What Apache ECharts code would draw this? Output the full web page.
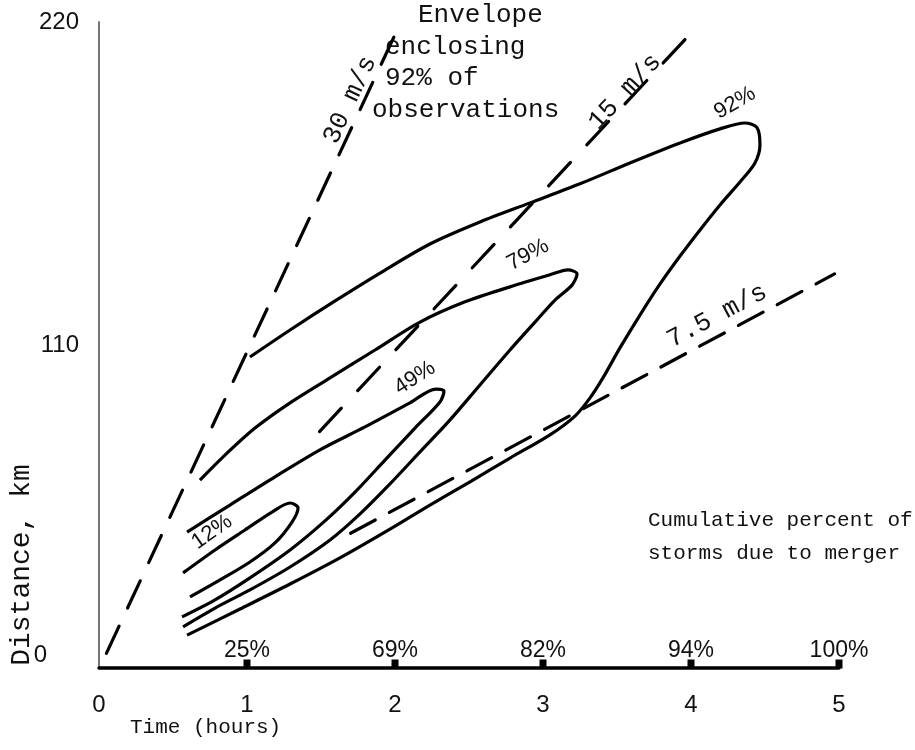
<!DOCTYPE html>
<html>
<head>
<meta charset="utf-8">
<script src="https://cdn.jsdelivr.net/npm/echarts@6/dist/echarts.min.js"></script>
<style>
html,body{margin:0;padding:0;background:#fff;}
#chart{width:915px;height:750px;}
</style>
</head>
<body>
<div id="chart"></div>
<script>
// ---------- data ----------
const xTicks = [0, 1, 2, 3, 4, 5];            // Time (hours)
const yTicks = [0, 110, 220];                 // Distance, km
const pctHours = [1, 2, 3, 4, 5];
const cumulativePct = [25, 69, 82, 94, 100];  // cumulative percent of storms due to merger

const contourLevels = ['12%', '49%', '79%', '92%'];

const contour12 = [
  [0.568, 32.4], [0.784, 40.2], [0.986, 47.0], [1.169, 53.1], [1.291, 56.2],
  [1.345, 54.5], [1.304, 49.7], [1.189, 42.6], [1.020, 36.1], [0.818, 30.0], [0.615, 24.2]
];
const contour49 = [
  [0.595, 46.3], [0.885, 55.5], [1.189, 65.1], [1.493, 74.3], [1.797, 82.1],
  [2.101, 90.3], [2.277, 95.0], [2.331, 94.3], [2.304, 90.6], [2.135, 81.7],
  [1.932, 70.8], [1.730, 59.9], [1.527, 50.1], [1.291, 40.2], [1.020, 30.7],
  [0.784, 23.2], [0.561, 17.4]
];
const contour79 = [
  [0.682, 64.0], [0.851, 72.5], [1.054, 81.7], [1.291, 90.3], [1.561, 98.8],
  [1.865, 108.3], [2.169, 117.8], [2.473, 124.7], [2.777, 129.8], [3.047, 133.9],
  [3.169, 135.6], [3.230, 134.2], [3.196, 130.4], [3.081, 125.3], [2.946, 117.8],
  [2.777, 108.3], [2.574, 96.4], [2.372, 84.5], [2.169, 73.6], [1.966, 62.7],
  [1.764, 52.5], [1.561, 43.6], [1.291, 34.4], [1.020, 26.6], [0.784, 20.4], [0.568, 14.0]
];
const contour92 = [
  [1.020, 105.9], [1.291, 115.1], [1.595, 125.0], [1.899, 134.5], [2.236, 144.4],
  [2.574, 151.9], [2.912, 158.4], [3.250, 164.9], [3.588, 172.0], [3.926, 178.8],
  [4.196, 183.6], [4.365, 185.6], [4.446, 184.0], [4.466, 178.1], [4.432, 172.0],
  [4.331, 165.5], [4.196, 157.7], [4.061, 149.2], [3.926, 140.3], [3.791, 130.8],
  [3.655, 120.2], [3.520, 109.0], [3.405, 98.8], [3.318, 92.0], [3.216, 85.8],
  [3.047, 79.4], [2.777, 71.5], [2.507, 63.4], [2.236, 55.5], [1.966, 47.3],
  [1.628, 37.5], [1.291, 28.6], [0.953, 20.1], [0.595, 11.2]
];

const speedNames = ['30 m/s', '15 m/s', '7.5 m/s'];
const speed30 = [[0.05, 5], [2.04, 220]];
const speed15 = [[1.49, 80.5], [4.07, 220]];
const speed75 = [[1.70, 45.9], [4.97, 134.2]];

// label anchors (placement only)
const contourLabelAnchors = [[0.764, 46.3], [2.135, 98.8], [2.899, 140.7], [4.297, 192.4]];
const contourLabelRot = [35, 33, 28, 30];
const speedLabelAnchors = [[1.696, 193.5], [3.554, 196.2], [4.176, 119.9]];
const speedLabelRot = [65, 47, 28];

// ---------- chart ----------
const chart = echarts.init(document.getElementById('chart'), null, {renderer: 'canvas'});
const SANS = 'Liberation Sans, Arial, sans-serif';
const MONO = 'Liberation Mono, Courier New, monospace';
const INK = '#111';

function contourSeries(data) {
  return {
    type: 'line', data: data, smooth: 0.3, showSymbol: false, symbol: 'none',
    lineStyle: {color: '#000', width: 3.2, join: 'round'}, silent: true, z: 3, clip: false
  };
}
function speedSeries(data, dash) {
  return {
    type: 'line', data: data, showSymbol: false, symbol: 'none',
    lineStyle: {color: '#000', width: 3.2, type: dash, cap: 'round'}, silent: true, z: 3, clip: false
  };
}

const series = [
  contourSeries(contour12),
  contourSeries(contour49),
  contourSeries(contour79),
  contourSeries(contour92),
  speedSeries(speed30, [30, 20]),
  speedSeries(speed15, [32, 24]),
  speedSeries(speed75, [28, 16]),
  {
    type: 'scatter',
    data: contourLabelAnchors.map((p, i) => ({value: p, label: {rotate: contourLabelRot[i], formatter: contourLevels[i]}})),
    symbolSize: 0,
    itemStyle: {opacity: 1},
    label: {show: true, position: 'inside', fontFamily: SANS, fontSize: 22, color: INK, opacity: 1},
    silent: true, z: 4
  },
  {
    type: 'scatter',
    data: speedLabelAnchors.map((p, i) => ({value: p, label: {rotate: speedLabelRot[i], formatter: speedNames[i]}})),
    symbolSize: 0,
    itemStyle: {opacity: 1},
    label: {show: true, position: 'inside', fontFamily: MONO, fontSize: 26, color: INK, opacity: 1},
    silent: true, z: 4
  },
  {
    type: 'scatter',
    data: pctHours.map((h) => [h, 0]),
    symbol: 'rect', symbolSize: [7, 9], symbolOffset: [0, -4],
    itemStyle: {color: '#000', opacity: 1},
    label: {
      show: true, position: 'top', distance: 0, offset: [0, 3],
      formatter: p => cumulativePct[p.dataIndex] + '%',
      fontFamily: SANS, fontSize: 23, color: INK, opacity: 1
    },
    silent: true, z: 5, clip: false
  }
];

const option = {
  backgroundColor: '#fff',
  animation: false,
  grid: {left: 99, right: 76, top: 22, bottom: 82},
  xAxis: {
    type: 'value', min: xTicks[0], max: xTicks[xTicks.length - 1], interval: 1,
    axisLine: {show: true, lineStyle: {color: '#000', width: 3.5}},
    axisTick: {show: false},
    splitLine: {show: false},
    axisLabel: {margin: 25, fontFamily: SANS, fontSize: 24, color: INK,
      formatter: v => xTicks.indexOf(v) >= 0 ? String(v) : ''}
  },
  yAxis: {
    type: 'value', min: yTicks[0], max: yTicks[yTicks.length - 1], interval: 110,
    axisLine: {show: true, lineStyle: {color: '#777', width: 2}},
    axisTick: {show: false},
    splitLine: {show: false},
    axisLabel: {
      margin: 20, fontFamily: SANS, fontSize: 24, color: INK,
      formatter: v => v === 0 ? '{z|0}' : String(v),
      rich: {z: {fontFamily: SANS, fontSize: 24, color: INK, padding: [0, 32, 26, 0]}}
    }
  },
  series: series,
  graphic: [
    {type: 'text', left: 418, top: 2, style: {text: 'Envelope', font: '26px ' + MONO, fill: INK}},
    {type: 'text', left: 385, top: 34, style: {text: 'enclosing', font: '26px ' + MONO, fill: INK}},
    {type: 'text', left: 385, top: 65, style: {text: '92% of', font: '26px ' + MONO, fill: INK}},
    {type: 'text', left: 372, top: 97, style: {text: 'observations', font: '26px ' + MONO, fill: INK}},
    {type: 'text', left: 648, top: 510, style: {text: 'Cumulative percent of', font: '21px ' + MONO, fill: INK}},
    {type: 'text', left: 648, top: 543, style: {text: 'storms due to merger', font: '21px ' + MONO, fill: INK}},
    {type: 'text', left: 130, top: 717, style: {text: 'Time (hours)', font: '21px ' + MONO, fill: INK}},
    {type: 'text', x: 22, y: 565, rotation: Math.PI / 2,
      style: {text: 'Distance, km', font: '28px ' + MONO, fill: INK, align: 'center', verticalAlign: 'middle'}}
  ]
};
chart.setOption(option);
</script>
</body>
</html>
